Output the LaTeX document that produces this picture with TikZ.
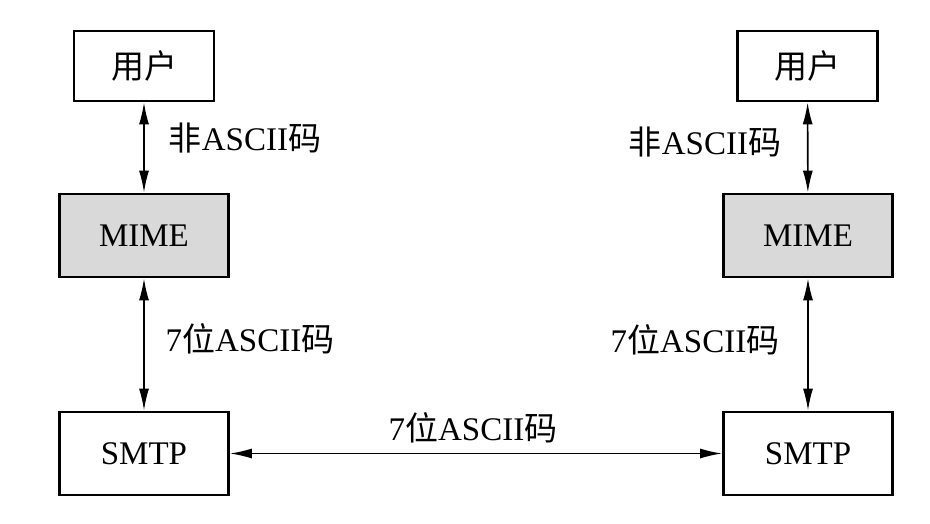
\documentclass[tikz,border=0pt]{standalone}
\usepackage{fontspec}
\setmainfont{Liberation Serif}
\newfontfamily\cjk{Noto Sans CJK SC}
\usetikzlibrary{arrows.meta}
\newcommand\zh[1]{{\cjk #1}}
\begin{document}
\begin{tikzpicture}[x=1pt,y=-1pt,
  box/.style={draw,line width=2.8pt,inner sep=0pt,font=\fontsize{33}{40}\selectfont},
  ubox/.style={box,minimum width=140pt,minimum height=70pt},
  bigbox/.style={box,minimum width=169pt,minimum height=83pt},
  lbl/.style={inner sep=0pt,font=\fontsize{33}{40}\selectfont},
  conn/.style={line width=1.6pt,{Latex[length=22pt,width=10pt]}-{Latex[length=22pt,width=10pt]}}
]
\useasboundingbox[fill=white] (0,0) rectangle (930,524);
\node[ubox] (u1) at (144,66) {\zh{用户}};
\node[bigbox,fill=black!15] (m1) at (144,235.5) {MIME};
\node[bigbox] (s1) at (144,453.5) {SMTP};
\node[ubox] (u2) at (807.5,66) {\zh{用户}};
\node[bigbox,fill=black!15] (m2) at (808,235.5) {MIME};
\node[bigbox] (s2) at (808,453.5) {SMTP};
\draw[conn] (u1) -- (m1);
\draw[conn] (m1) -- (s1);
\draw[conn] (u2) -- (m2);
\draw[conn] (m2) -- (s2);
\draw[conn] (s1) -- (s2);
\node[lbl] (l1) at (245,138) {\zh{非}ASCII\zh{码}};
\node[lbl] (l2) at (250,339) {7\zh{位}ASCII\zh{码}};
\node[lbl] (l3) at (705,142) {\zh{非}ASCII\zh{码}};
\node[lbl] (l4) at (695,340) {7\zh{位}ASCII\zh{码}};
\node[lbl] (l5) at (473,428) {7\zh{位}ASCII\zh{码}};
\end{tikzpicture}
\end{document}
